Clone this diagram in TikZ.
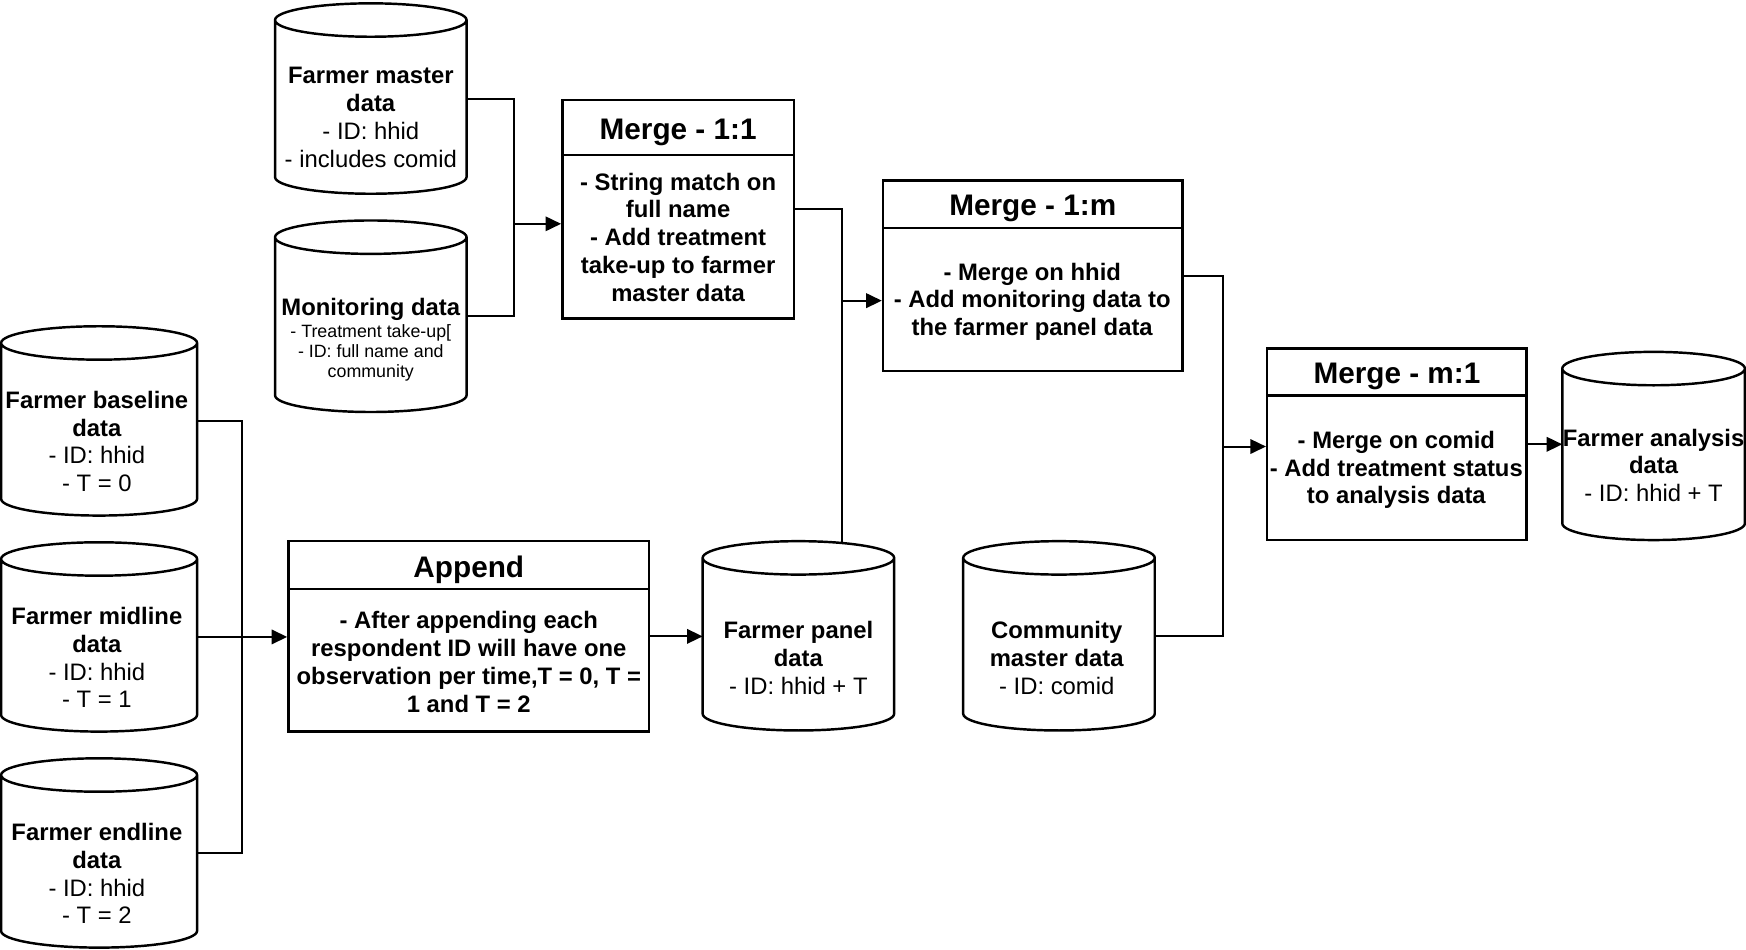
\documentclass[tikz,border=0pt]{standalone}
\usepackage{fontspec}
\setmainfont{Liberation Sans}
\usetikzlibrary{arrows.meta,calc}
\tikzset{
  shapeline/.style={line width=2.2pt, line join=miter},
  conn/.style={line width=1.8pt, line join=miter},
  arr/.style={conn, -{Triangle[length=14pt,width=13pt]}},
  body/.style={align=center, inner sep=0pt, font=\fontsize{21.4}{25}\selectfont},
  bbody/.style={body, font=\fontsize{21.4}{25}\selectfont\bfseries},
  ttl/.style={inner sep=0pt, font=\fontsize{26.7}{30}\selectfont\bfseries},
  procbox/.style={draw, shapeline, inner sep=0pt},
  cylbox/.style={inner sep=0pt, outer sep=0pt},
}
% cylinder: name, left, top, right, bottom
\newcommand\dbcyl[5]{%
  \node[cylbox, minimum width={#4-#2}, minimum height={#5-#3}] (#1) at ({(#2+#4)/2},{(#3+#5)/2}) {};
  \draw[shapeline] ([yshift=-15pt]#1.north west) -- ([yshift=15pt]#1.south west)
     arc[start angle=180, end angle=360, x radius={(#4-#2)/2*1pt}, y radius=15pt]
     -- ([yshift=-15pt]#1.north east)
     arc[start angle=0, end angle=180, x radius={(#4-#2)/2*1pt}, y radius=15pt]
     arc[start angle=180, end angle=360, x radius={(#4-#2)/2*1pt}, y radius=15pt];
}
% process box: name, left, top, right, bottom, separator y, title
\newcommand\prbox[7]{%
  \node[procbox, minimum width={#4-#2}, minimum height={#5-#3}] (#1) at ({(#2+#4)/2},{(#3+#5)/2}) {};
  \draw[shapeline] (#2,#6) -- (#4,#6);
  \node[ttl] (#1-title) at ({(#2+#4)/2},{(#3+#6)/2+4}) {#7};
}
\begin{document}
\begin{tikzpicture}[x=1pt,y=-1pt]
\fill[white] (0,0) rectangle (1568,853);
\useasboundingbox (0,0) rectangle (1568,853);

% data cylinders
\dbcyl{master}{247}{3}{419}{174}
\node[body] (master-t) at (333,105.5) {\textbf{Farmer master}\\\textbf{data}\\- ID: hhid\\- includes comid};

\dbcyl{monitor}{247}{198}{419}{370}
\node[body, font=\fontsize{16}{18}\selectfont] (monitor-t) at (333,305) {{\fontsize{21.4}{25}\selectfont\bfseries Monitoring data}\\[2pt]- Treatment take-up[\\- ID: full name and\\community};

\dbcyl{baseline}{1}{293}{177}{463}
\node[body] (baseline-t) at (87,396.5) {\textbf{Farmer baseline}\\\textbf{data}\\- ID: hhid\\- T = 0};

\dbcyl{midline}{1}{487}{177}{657}
\node[body] (midline-t) at (87,590.5) {\textbf{Farmer midline}\\\textbf{data}\\- ID: hhid\\- T = 1};

\dbcyl{endline}{1}{681}{177}{851}
\node[body] (endline-t) at (87,784.5) {\textbf{Farmer endline}\\\textbf{data}\\- ID: hhid\\- T = 2};

\dbcyl{panel}{631}{486}{803}{656}
\node[body] (panel-t) at (717,591) {\textbf{Farmer panel}\\\textbf{data}\\- ID: hhid + T};

\dbcyl{community}{865}{486}{1037}{656}
\node[body] (community-t) at (949,591) {\textbf{Community}\\\textbf{master data}\\- ID: comid};

\dbcyl{analysis}{1403}{316}{1567}{485}
\node[body] (analysis-t) at (1485,418) {\textbf{Farmer analysis}\\\textbf{data}\\- ID: hhid + T};

% process boxes
\prbox{m11}{505}{90}{713}{286}{139}{Merge - 1:1}
\node[bbody] (m11-b) at (609,213) {- String match on\\full name\\- Add treatment\\take-up to farmer\\master data};

\prbox{m1m}{793}{162}{1062}{333}{205}{Merge - 1:m}
\node[bbody] (m1m-b) at (927,271) {- Merge on hhid\\- Add monitoring data to\\the farmer panel data};

\prbox{mm1}{1138}{313}{1371}{485}{355}{Merge - m:1}
\node[bbody] (mm1-b) at (1254,422) {- Merge on comid\\- Add treatment status\\to analysis data};

\prbox{append}{259}{486}{583}{657}{529}{Append}
\node[bbody] (append-b) at (421,594.5) {- After appending each\\respondent ID will have one\\observation per time,T = 0, T =\\1 and T = 2};

% junctions
\coordinate (j1) at (462,201);
\coordinate (j2) at (217,572);
\coordinate (j3) at (756,270);
\coordinate (j4) at (1098,401);
\coordinate (paneltop) at (756,488);

% connectors
\draw[conn] (master.east) -| (j1);
\draw[conn] (monitor.east) -| (j1);
\draw[arr] (j1) -- (j1 -| m11.west);

\draw[conn] (baseline.east) -| (j2);
\draw[conn] (endline.east) -| (j2);
\draw[arr] (midline.east) -- (midline.east -| append.west);

\draw[arr] (append.east) -- (append.east -| panel.west);

\draw[conn] (m11.east) -| (j3);
\draw[conn] (paneltop) -- (j3);
\draw[arr] (j3) -- (j3 -| m1m.west);

\draw[conn] (m1m.east) -| (j4);
\draw[conn] (community.east) -| (j4);
\draw[arr] (j4) -- (j4 -| mm1.west);

\draw[arr] (mm1.east) -- (mm1.east -| analysis.west);
\end{tikzpicture}
\end{document}
